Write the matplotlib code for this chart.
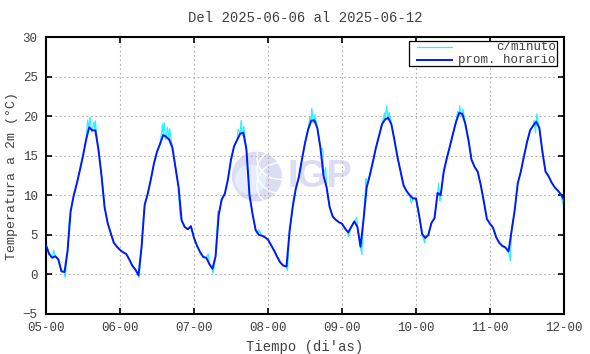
import numpy as np
import matplotlib
matplotlib.use('Agg')
import matplotlib.pyplot as plt
from matplotlib.patches import Ellipse, Rectangle

# hourly mean temperature (°C), one list per day starting at 00h
day1 = [3.7, 2.6, 2.1, 2.3, 1.9, 0.4, 0.3, 3.0, 8.0, 10.0, 11.5, 13.2, 15.0, 17.0, 18.6, 18.2, 18.2, 15.8, 12.5, 8.5, 6.5, 5.2, 4.0, 3.5]
day2 = [3.1, 2.8, 2.6, 1.9, 1.1, 0.6, -0.1, 3.5, 8.8, 10.2, 12.0, 14.0, 15.5, 16.5, 17.6, 17.4, 17.0, 16.0, 13.5, 11.0, 6.8, 6.0, 5.7, 6.1]
day3 = [4.6, 3.6, 2.8, 2.2, 2.1, 1.3, 0.7, 2.3, 7.5, 9.5, 10.2, 12.0, 14.5, 16.2, 17.0, 17.8, 17.9, 15.8, 10.0, 7.6, 5.6, 5.0, 4.9, 4.7]
day4 = [4.4, 3.7, 3.0, 2.2, 1.5, 1.1, 1.0, 5.5, 8.5, 10.8, 12.3, 14.5, 16.6, 18.3, 19.4, 19.5, 18.5, 16.0, 12.5, 11.0, 8.5, 7.3, 6.9, 6.6]
day5 = [6.4, 5.8, 5.3, 6.0, 6.7, 6.0, 3.5, 7.0, 11.0, 12.5, 14.2, 16.0, 17.5, 19.0, 19.6, 19.8, 19.0, 17.0, 14.8, 13.0, 11.2, 10.5, 10.0, 9.6]
day6 = [9.6, 7.5, 5.1, 4.6, 5.0, 6.5, 7.1, 10.3, 10.0, 13.0, 14.7, 16.2, 17.8, 19.3, 20.4, 20.3, 19.0, 17.0, 14.5, 13.6, 13.0, 11.3, 9.2, 7.0]
day7 = [6.4, 5.9, 4.7, 4.0, 3.6, 3.4, 2.9, 5.5, 8.1, 11.5, 13.0, 14.9, 16.7, 18.2, 18.8, 19.3, 18.5, 15.5, 13.0, 12.4, 11.6, 11.0, 10.6, 10.1, 9.4]

# per-minute excursions visible around the hourly curve (hours since 05-00, °C)
spike_t = [2.5, 6.2, 7.5, 13.5, 14.3, 14.8, 15.5, 16.0, 16.5,
           30.2, 31.5, 37.8, 38.3, 38.8, 39.4, 40.1, 43.4,
           52.6, 54.2, 55.8, 62.3, 63.3, 63.7, 64.1, 69.0,
           78.3, 80.2, 85.6, 86.2, 86.7, 87.2, 89.8, 90.7,
           98.0, 100.8, 102.4, 103.8, 109.8, 110.5, 110.9, 111.3, 118.5,
           122.8, 127.3, 127.8, 133.5, 134.2, 134.7, 135.2,
           150.6, 158.3, 158.8, 159.2, 159.6, 167.7]
spike_v = [3.1, -0.3, 6.8, 19.5, 19.9, 18.0, 19.2, 19.4, 17.5,
           -0.4, 6.5, 19.0, 19.2, 17.0, 18.6, 18.4, 7.6,
           2.6, 0.2, 8.0, 18.3, 19.5, 17.6, 18.7, 5.6,
           0.5, 9.5, 19.9, 21.0, 19.2, 20.2, 15.8, 13.5,
           4.8, 7.2, 2.5, 12.1, 20.4, 21.3, 19.5, 20.5, 9.0,
           4.0, 11.5, 9.3, 20.6, 21.3, 20.0, 20.9,
           1.7, 19.5, 17.9, 20.3, 19.2, 8.8]

day_labels = ['05-00', '06-00', '07-00', '08-00', '09-00', '10-00', '11-00', '12-00']

hourly = np.array(day1 + day2 + day3 + day4 + day5 + day6 + day7)
hours = np.arange(len(hourly))

t_min = np.concatenate([hours, spike_t])
v_min = np.concatenate([hourly, spike_v])
order = np.argsort(t_min, kind='stable')
t_min, v_min = t_min[order], v_min[order]

txt = '#404040'
plt.rcParams['font.family'] = ['Liberation Mono', 'DejaVu Sans Mono']

fig = plt.figure(figsize=(5.9, 3.54), dpi=100)
ax = fig.add_axes([46/590, 40/354, 518/590, 277/354])

# IGP watermark
cx, cy = 0.407, 0.496
ax.add_patch(Ellipse((cx, cy), 0.0965, 0.1805, transform=ax.transAxes,
                     facecolor='#dcdcf2', edgecolor='none', zorder=0))
ax.add_patch(Ellipse((cx - 0.012, cy - 0.01), 0.06, 0.11, transform=ax.transAxes,
                     facecolor='#e4eefc', edgecolor='none', zorder=0))
for k in range(3):
    ax.add_patch(Ellipse((cx + 0.045, cy + 0.07 - 0.05 * k), 0.09, 0.16,
                         transform=ax.transAxes, facecolor='none',
                         edgecolor='white', lw=1.0, zorder=0))
ax.text(0.466, 0.496, 'IGP', transform=ax.transAxes, ha='left', va='center',
        fontsize=27, fontweight='bold', color='#dcdcf2',
        family=['Liberation Sans', 'DejaVu Sans'], zorder=0)

ax.plot(t_min, v_min, color='#30f0ff', lw=0.9, zorder=2)
ax.plot(hours, hourly, color='#0018ff', lw=1.4, zorder=3)

ax.set_xlim(0, 168)
ax.set_ylim(-5, 30)
ax.set_xticks(np.arange(0, 169, 24))
ax.set_xticklabels(day_labels)
ax.set_yticks(np.arange(-5, 31, 5))
ax.grid(True, color='#b0b0b0', ls=(0, (1.5, 2.5)), lw=0.8)
ax.tick_params(direction='in', length=4, width=1.2, top=True, right=True,
               labelsize=9, labelcolor=txt, pad=6)
for s in ax.spines.values():
    s.set_linewidth(1.5)

ax.set_xlabel("Tiempo (di'as)", fontsize=10, color=txt, labelpad=4)
ax.set_ylabel('Temperatura a 2m (°C)', fontsize=9.5, color=txt, labelpad=3)
ax.set_title('Del 2025-06-06 al 2025-06-12', fontsize=10, color=txt, pad=11)

# gnuplot-style legend box
ax.add_patch(Rectangle(((409 - 46) / 518, 1 - (66 - 37) / 277), 148 / 518, 25 / 277,
                       transform=ax.transAxes, facecolor='white',
                       edgecolor='black', lw=0.9, zorder=4))
for yy, col, lab, lw in [(47, '#30f0ff', 'c/minuto', 0.9), (60, '#0018ff', 'prom. horario', 1.4)]:
    ya = 1 - (yy - 37) / 277
    ax.plot([(417 - 46) / 518, (452 - 46) / 518], [ya, ya], transform=ax.transAxes,
            color=col, lw=lw, zorder=5)
    ax.text((556 - 46) / 518, ya, lab, transform=ax.transAxes, ha='right',
            va='center', fontsize=9, color=txt, zorder=5)

fig.savefig('out.png', dpi=100)
